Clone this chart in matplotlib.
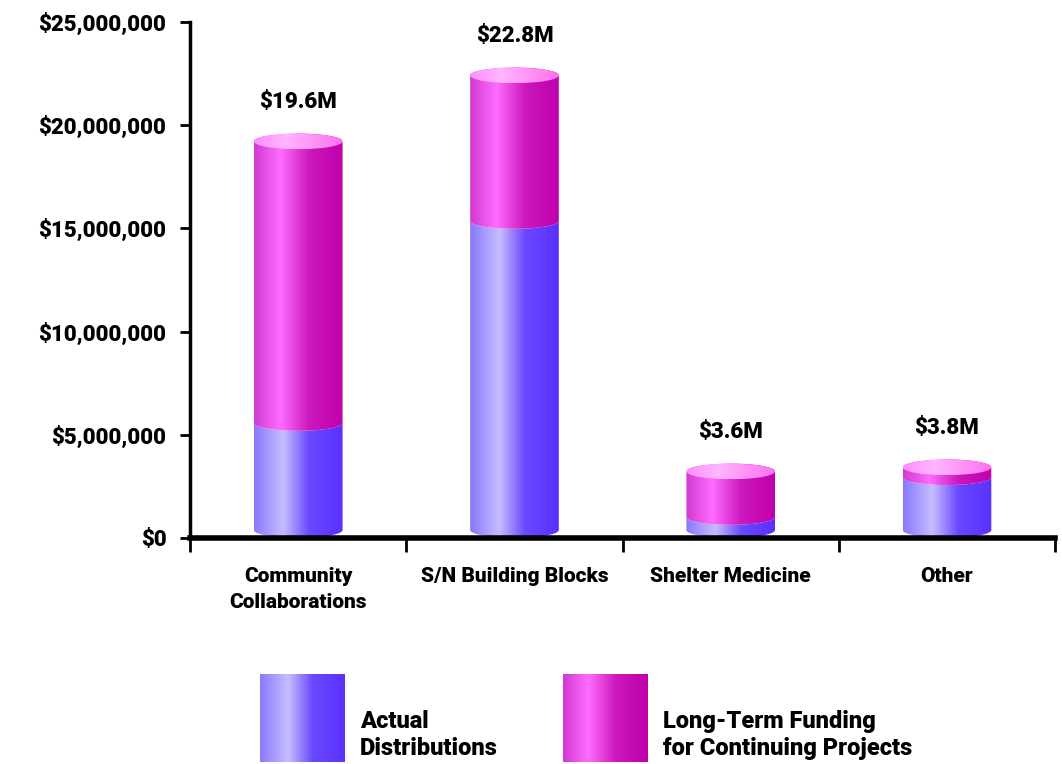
import numpy as np
import matplotlib
matplotlib.use("Agg")
import matplotlib.pyplot as plt
from matplotlib.colors import LinearSegmentedColormap
from matplotlib.patches import Polygon, Ellipse
from matplotlib.ticker import FuncFormatter

# --- data (millions of dollars) ---
categories = ["Community\nCollaborations", "S/N Building Blocks", "Shelter Medicine", "Other"]
actual = [5.4, 15.5, 0.8, 3.2]
longterm = [14.2, 7.3, 2.8, 0.6]
totals = ["$19.6M", "$22.8M", "$3.6M", "$3.8M"]
series = ["Actual\nDistributions", "Long-Term Funding\nfor Continuing Projects"]

FONT = ["Roboto", "DejaVu Sans"]
WT = "heavy"
plt.rcParams["font.family"] = FONT
plt.rcParams["font.weight"] = WT

blue = LinearSegmentedColormap.from_list(
    "blue", [(0, "#8878ff"), (0.33, "#c6befe"), (0.62, "#6a48ff"), (1, "#5a30ff")])
pink = LinearSegmentedColormap.from_list(
    "pink", [(0, "#d23ad0"), (0.3, "#ff6cff"), (0.62, "#cc18bc"), (1, "#c000ac")])
cap = LinearSegmentedColormap.from_list(
    "cap", [(0, "#ff8cff"), (0.35, "#ffb6ff"), (1, "#ff70ee")])
grad = np.linspace(0, 1, 256).reshape(1, -1)

fig = plt.figure(figsize=(10.62, 7.64), dpi=100)
ax = fig.add_axes([0.179, 0.296, 0.8145, 0.675])

W = 0.41   # bar width (category units)
E = 0.38   # ellipse half height (millions)


def arc(xc, y, lower, reverse=False):
    t = np.linspace(np.pi, 2 * np.pi, 60) if lower else np.linspace(0, np.pi, 60)[::-1]
    pts = np.column_stack([xc + W / 2 * np.cos(t), y + E * np.sin(t)])
    return pts[::-1] if reverse else pts


def shade(patch, cmap, x0, x1, y0, y1):
    ax.add_patch(patch)
    im = ax.imshow(grad, cmap=cmap, extent=[x0, x1, y0, y1], aspect="auto",
                   interpolation="bilinear", zorder=2)
    im.set_clip_path(patch)


for i, (a, l) in enumerate(zip(actual, longterm)):
    xc = i + 0.5
    tot = a + l
    k = (tot - 2 * E) / tot          # project cylinder so outline spans 0..total
    yb = E
    ym = E + a * k
    yt = E + tot * k
    xl, xr = xc - W / 2, xc + W / 2
    # lower segment
    v = np.vstack([[[xl, ym]], arc(xc, yb, True), [[xr, ym]], arc(xc, ym, True, reverse=True)])
    shade(Polygon(v, closed=True, fc="none", ec="none"), blue, xl, xr, yb - E, ym + E)
    # upper segment
    v = np.vstack([[[xl, yt]], arc(xc, ym, True), [[xr, yt]], arc(xc, yt, False)])
    shade(Polygon(v, closed=True, fc="none", ec="none"), pink, xl, xr, ym - E, yt + E)
    # top cap
    shade(Ellipse((xc, yt), W, 2 * E, fc="none", ec="none"), cap, xl, xr, yt - E, yt + E)
    ax.text(xc, tot + 1.0, totals[i], ha="center", va="bottom", fontsize=16,
            fontweight=WT)

ax.set_xlim(0, 4)
ax.set_ylim(0, 25)
ax.set_yticks(np.arange(0, 26, 5))
ax.yaxis.set_major_formatter(FuncFormatter(lambda v, p: f"${v * 1e6:,.0f}"))
ax.set_xticks([0.5, 1.5, 2.5, 3.5])
ax.set_xticklabels(categories, fontsize=15, fontweight=WT, linespacing=1.45)
ax.set_xticks(range(5), minor=True)
ax.tick_params(axis="x", which="major", length=0, pad=21)
ax.tick_params(axis="x", which="minor", length=10, width=2, direction="out")
ax.tick_params(axis="y", length=7, width=2, direction="out", labelsize=16, pad=10)
for t in ax.get_yticklabels():
    t.set_fontweight(WT)
for s in ["top", "right"]:
    ax.spines[s].set_visible(False)
ax.spines["left"].set_linewidth(2.5)
ax.spines["bottom"].set_linewidth(4)
ax.spines["bottom"].set_zorder(5)

# --- legend (pixel coordinates) ---
lg = fig.add_axes([0, 0, 1, 0.14])
lg.axis("off")
for x0, cm, lab in [(260, blue, series[0]), (563, pink, series[1])]:
    lg.imshow(grad, cmap=cm, extent=[x0, x0 + 85, 762, 674], aspect="auto",
              interpolation="bilinear")
    lg.text(x0 + 100, 760, lab, ha="left", va="bottom", fontsize=17,
            fontweight=WT, linespacing=1.25)
lg.set_xlim(0, 1062)
lg.set_ylim(764, 657)

fig.savefig("out.png", dpi=100)
